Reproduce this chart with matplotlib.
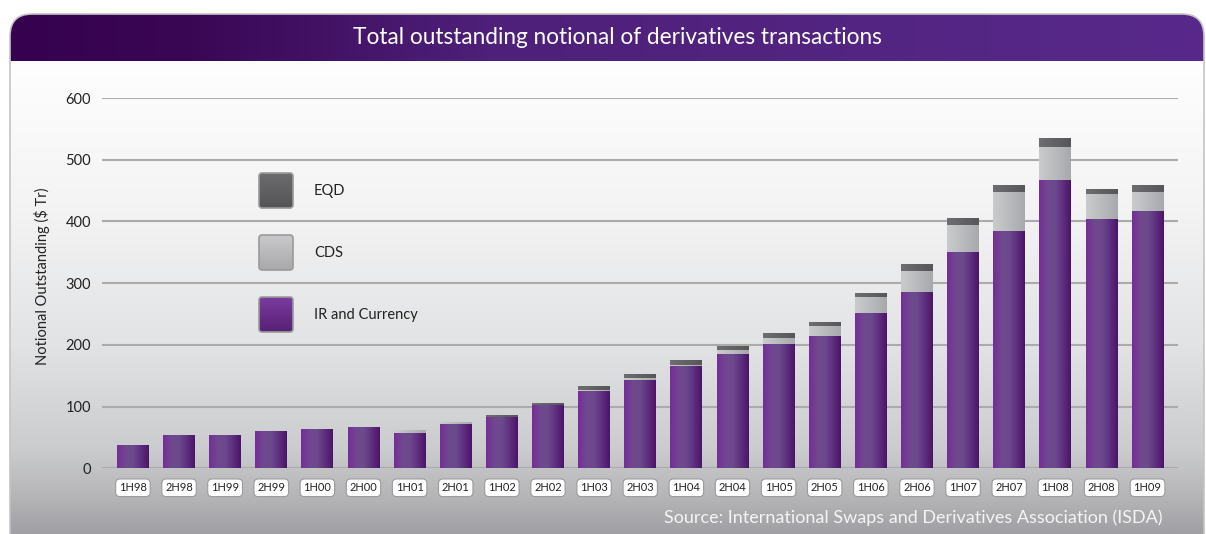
import matplotlib.pyplot as plt
import numpy as np
from matplotlib.patches import FancyBboxPatch
from matplotlib.colors import LinearSegmentedColormap

plt.rcParams['font.family'] = ['Lato', 'DejaVu Sans']

# Data ($ Tr)
periods = ['1H98', '2H98', '1H99', '2H99', '1H00', '2H00', '1H01', '2H01',
           '1H02', '2H02', '1H03', '2H03', '1H04', '2H04', '1H05', '2H05',
           '1H06', '2H06', '1H07', '2H07', '1H08', '2H08', '1H09']
ir_currency = [36, 52, 52, 59, 62, 65, 57, 72, 83, 102, 125, 143, 166, 186,
               202, 214, 252, 286, 350, 384, 467, 404, 417]
cds = [0, 0, 0, 0, 0, 0, 4, 3, 1, 1, 2, 3, 2, 5, 10, 17, 25, 33, 44, 63, 54, 41, 31]
eqd = [0, 0, 0, 0, 0, 0, 0, 0, 2.5, 3, 5, 5, 8, 6, 8, 5, 6, 10, 10, 10, 13, 8, 10]

W, H = 1206, 534
fig = plt.figure(figsize=(W / 100, H / 100), dpi=100)

# background panel (pixel coordinates)
bg = fig.add_axes([0, 0, 1, 1])
bg.set_xlim(0, W)
bg.set_ylim(H, 0)
bg.axis('off')
panel = FancyBboxPatch((10, 14), 1194, 600, boxstyle='round,pad=0,rounding_size=22',
                       facecolor='none', edgecolor='#c4c4c4', lw=1.2, zorder=3)
bg.add_patch(panel)
vcmap = LinearSegmentedColormap.from_list('v', [(0, '#fefefe'), (0.3, '#f4f4f5'),
                                                (0.6, '#e2e3e4'), (0.82, '#cbcccd'),
                                                (0.92, '#b6b6b9'), (1, '#a0a0a4')])
im = bg.imshow(np.linspace(0, 1, 256).reshape(-1, 1), cmap=vcmap, aspect='auto',
               extent=(10, 1204, 534, 61), zorder=1)
im.set_clip_path(panel)
hcmap = LinearSegmentedColormap.from_list('h', [(0, '#36024f'), (0.15, '#3a0755'),
                                                (0.4, '#4e2079'), (1, '#58298a')])
tb = bg.imshow(np.linspace(0, 1, 256).reshape(1, -1), cmap=hcmap, aspect='auto',
               extent=(10, 1204, 61, 14), zorder=2)
tb.set_clip_path(panel)
bg.set_xlim(0, W)
bg.set_ylim(H, 0)
bg.text(617, 38, 'Total outstanding notional of derivatives transactions',
        color='white', fontsize=16.3, ha='center', va='center', zorder=4)
bg.text(1163, 518, 'Source: International Swaps and Derivatives Association (ISDA)',
        color='#f4f4f4', fontsize=13, ha='right', va='center', zorder=4)
bg.text(42, 276, 'Notional Outstanding ($ Tr)', rotation=90, color='#222222',
        fontsize=10.5, ha='center', va='center', zorder=4)

# legend swatches
legend_items = [('EQD', ['#6c6c6e', '#545456']),
                ('CDS', ['#c9c9cb', '#a9a9ac']),
                ('IR and Currency', ['#7a3c9e', '#582175'])]
for i, (name, cols) in enumerate(legend_items):
    y0 = 173 + i * 62
    sw = FancyBboxPatch((259, y0), 34, 35, boxstyle='round,pad=0,rounding_size=3',
                        facecolor='none', edgecolor='#9a9a9a', lw=1.2, zorder=5)
    bg.add_patch(sw)
    g = bg.imshow(np.linspace(0, 1, 64).reshape(-1, 1),
                  cmap=LinearSegmentedColormap.from_list('l%d' % i, cols),
                  aspect='auto', extent=(259, 293, y0 + 35, y0), zorder=4)
    g.set_clip_path(sw)
    bg.text(314, y0 + 18, name, fontsize=10.5, color='#222222', va='center', zorder=5)
bg.set_xlim(0, W)
bg.set_ylim(H, 0)

# chart axes
ax = fig.add_axes([102 / W, (H - 468.4) / H, (1178 - 102) / W, (468.4 - 98) / H])
ax.patch.set_alpha(0)
x = np.arange(len(periods))
ax.set_xlim(-0.67, len(periods) - 1 + 0.66)
ax.set_ylim(0, 600)
ax.set_yticks(range(0, 601, 100))
ax.yaxis.grid(True, color='#ababab', lw=1.5)
ax.set_axisbelow(True)
for s in ax.spines.values():
    s.set_visible(False)
ax.tick_params(axis='y', length=0, pad=8, labelsize=10.5, labelcolor='#222222')
ax.tick_params(axis='x', length=0, pad=10, labelsize=8, labelcolor='#222222')
ax.set_xticks(x)
ax.set_xticklabels(periods)
for lab in ax.get_xticklabels():
    lab.set_bbox(dict(boxstyle='round,pad=0.3,rounding_size=0.4', facecolor='white',
                      edgecolor='#9a9a9a', lw=0.8))

ir = np.array(ir_currency)
c = np.array(cds)
e = np.array(eqd)
layers = [
    (ax.bar(x, ir, width=0.69, color='#6b3f8c', zorder=3),
     ['#762c99', '#70488f', '#6c4a8c', '#5e3080', '#4c1468']),
    (ax.bar(x, c, bottom=ir, width=0.69, color='#b8b8ba', zorder=3),
     ['#cacbcd', '#bfc0c2', '#b4b5b8', '#a8a9ac']),
    (ax.bar(x, e, bottom=ir + c, width=0.69, color='#5e5e60', zorder=3),
     ['#6e6e70', '#626264', '#575759']),
]
grad = np.linspace(0, 1, 64).reshape(1, -1)
for k, (bars, cols) in enumerate(layers):
    cm = LinearSegmentedColormap.from_list('b%d' % k, cols)
    for p in bars:
        if p.get_height() <= 0:
            continue
        p.set_alpha(0)
        x0, y0 = p.get_x(), p.get_y()
        ax.imshow(grad, cmap=cm, aspect='auto', zorder=3,
                  extent=(x0, x0 + p.get_width(), y0, y0 + p.get_height()))
ax.set_xlim(-0.67, len(periods) - 1 + 0.66)
ax.set_ylim(0, 600)

fig.savefig('out.png', dpi=100)
